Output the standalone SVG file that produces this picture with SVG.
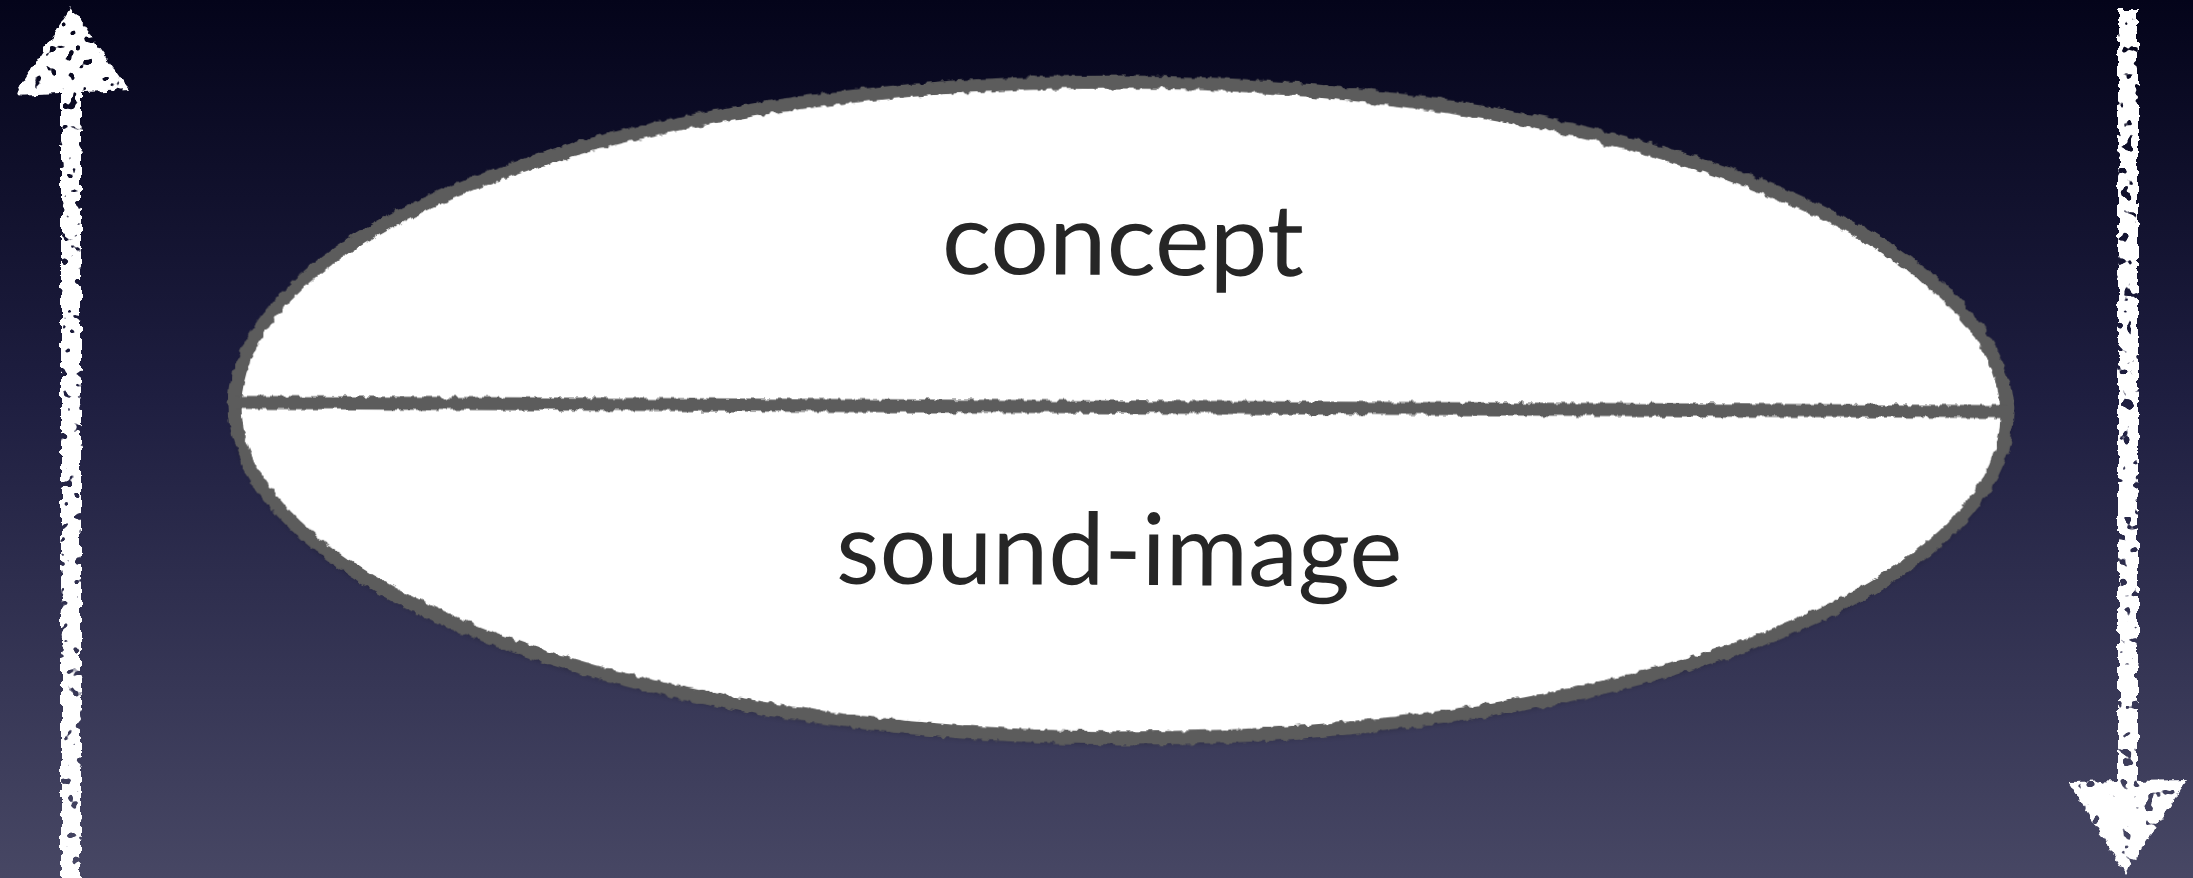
<svg xmlns="http://www.w3.org/2000/svg" width="2193" height="878" viewBox="0 0 2193 878">
<defs>
<linearGradient id="bg" x1="0" y1="0" x2="0" y2="1">
<stop offset="0" stop-color="#04041a"/>
<stop offset="0.45" stop-color="#1e1e40"/>
<stop offset="1" stop-color="#474764"/>
</linearGradient>
<filter id="chalk" x="-5%" y="-5%" width="110%" height="110%">
<feTurbulence type="fractalNoise" baseFrequency="0.12" numOctaves="2" seed="3" result="n"/>
<feDisplacementMap in="SourceGraphic" in2="n" scale="7" xChannelSelector="R" yChannelSelector="G"/>
</filter>
<filter id="chalkArrow" x="-20%" y="-2%" width="140%" height="104%">
<feTurbulence type="fractalNoise" baseFrequency="0.12" numOctaves="2" seed="7" result="n"/>
<feDisplacementMap in="SourceGraphic" in2="n" scale="8" xChannelSelector="R" yChannelSelector="G" result="d"/>
<feTurbulence type="fractalNoise" baseFrequency="0.09" numOctaves="2" seed="11" result="n2"/>
<feColorMatrix in="n2" type="matrix" values="0 0 0 0 0  0 0 0 0 0  0 0 0 0 0  -22 0 0 0 15" result="holes"/>
<feComposite in="d" in2="holes" operator="in"/>
</filter>
<filter id="shadow" x="-5%" y="-10%" width="110%" height="120%">
<feGaussianBlur in="SourceAlpha" stdDeviation="4"/>
<feOffset dx="0" dy="3" result="b"/>
<feFlood flood-color="#000" flood-opacity="0.5"/>
<feComposite in2="b" operator="in"/>
<feMerge><feMergeNode/><feMergeNode in="SourceGraphic"/></feMerge>
</filter>
</defs>
<style>
.lbl{font-family:Lato,"Open Sans","Liberation Sans",sans-serif;font-size:100px;fill:#262626;text-anchor:middle}
.edge{stroke:#5b5b5b;stroke-width:13;fill:none}
.arrow{fill:#ffffff}
</style>
<rect width="2193" height="878" fill="url(#bg)"/>
<g id="sign" transform="rotate(0.3 1121 410)">
<g filter="url(#shadow)">
<ellipse cx="1121" cy="410" rx="886" ry="328" fill="#ffffff"/>
</g>
<g filter="url(#chalk)">
<ellipse class="edge" cx="1121" cy="410" rx="886" ry="328"/>
<line class="edge" x1="235" y1="407" x2="2007" y2="407"/>
</g>
<text id="concept" class="lbl" x="1122" y="275" textLength="362" lengthAdjust="spacingAndGlyphs">concept</text>
<text id="sound-image" class="lbl" x="1120" y="585" textLength="566" lengthAdjust="spacingAndGlyphs">sound-image</text>
</g>
<g id="connectors" filter="url(#chalkArrow)">
<g id="arrow-up">
<rect class="arrow" x="61" y="90" width="20" height="800"/>
<polygon class="arrow" points="71,8 130,90 14,95"/>
</g>
<g id="arrow-down">
<rect class="arrow" x="2118" y="10" width="20" height="780"/>
<polygon class="arrow" points="2068,782 2187,780 2125,874"/>
</g>
</g>
</svg>
